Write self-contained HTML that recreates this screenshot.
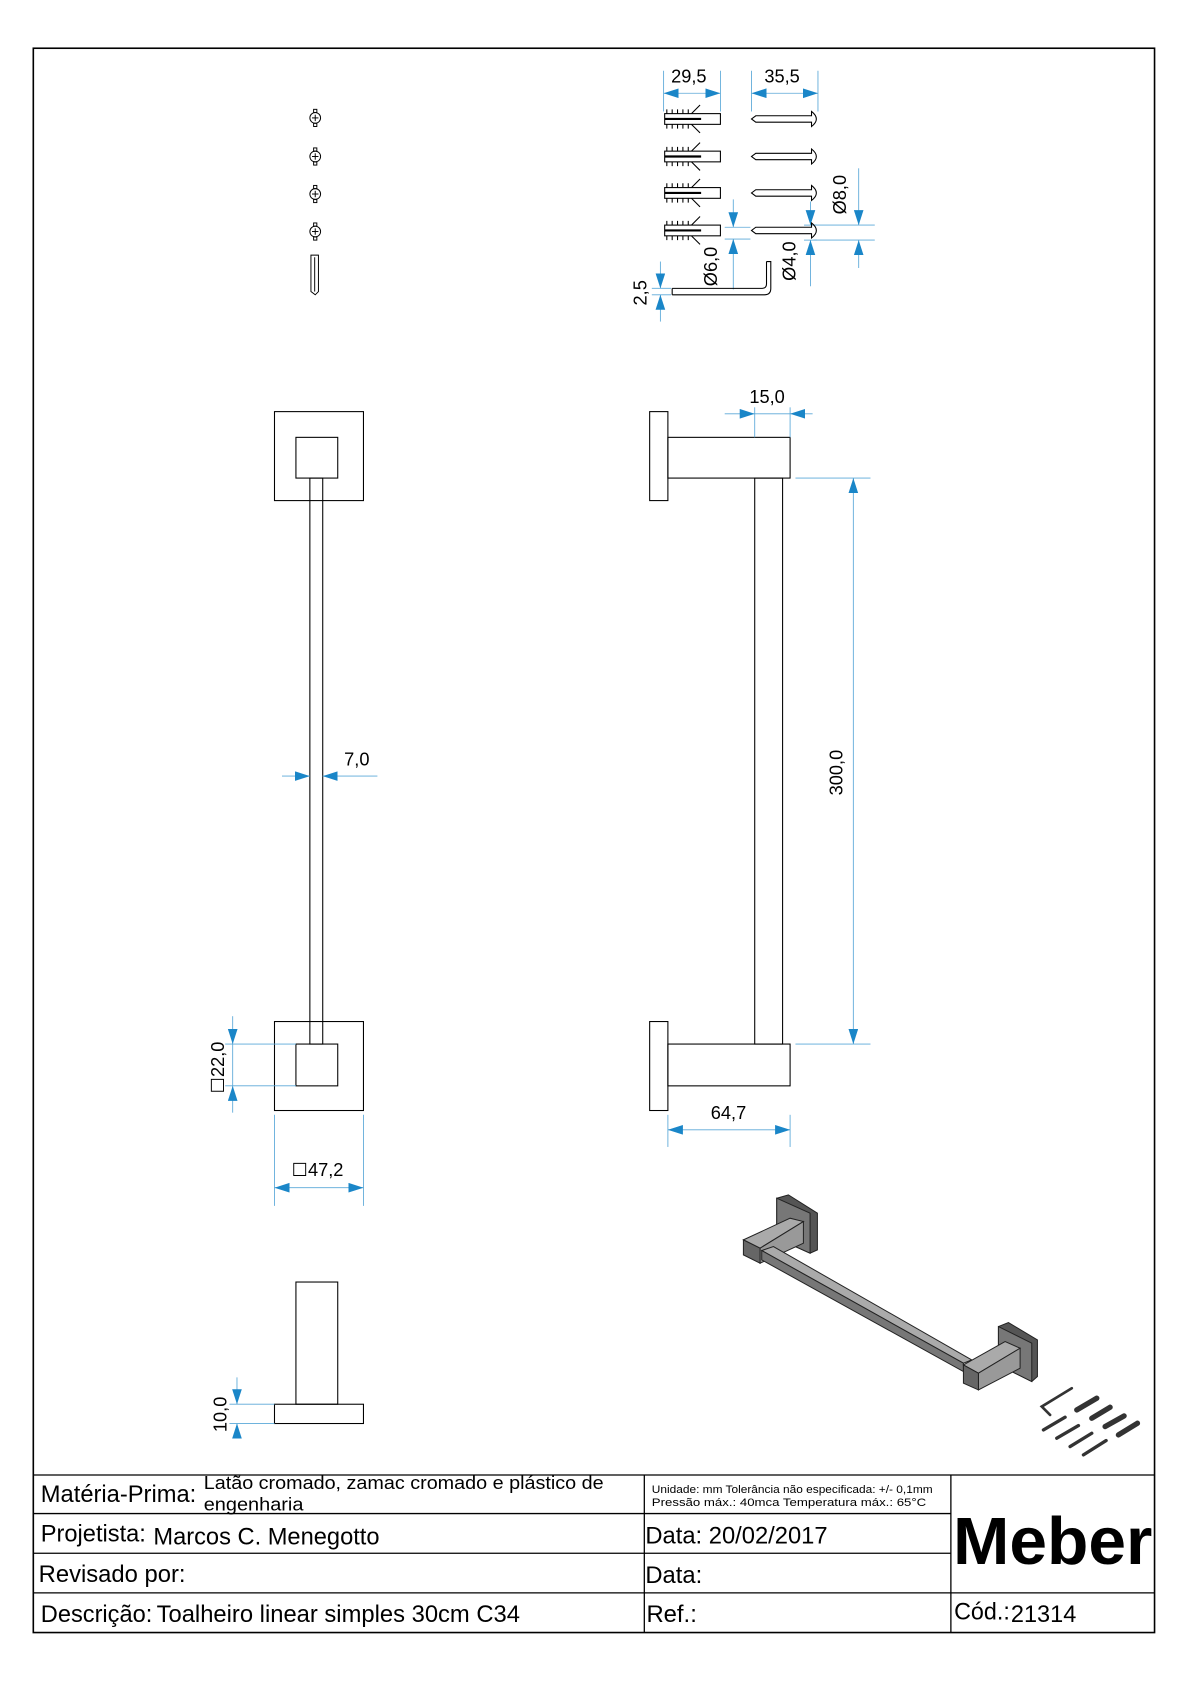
<!DOCTYPE html>
<html><head><meta charset="utf-8"><style>
html,body{margin:0;padding:0;background:#fff}
svg{display:block}
text{font-family:"Liberation Sans",sans-serif;fill:#000}
</style></head><body>
<svg width="1190" height="1684" viewBox="0 0 1110 1571" xmlns="http://www.w3.org/2000/svg">
<defs>
<marker id="a" markerUnits="userSpaceOnUse" markerWidth="14" markerHeight="10" refX="14" refY="4.5" orient="auto-start-reverse"><path d="M0,0 L14,4.5 L0,9 z" fill="#1a86c8"/></marker>
</defs>
<rect x="31" y="45" width="1046" height="1478" fill="none" stroke="#000" stroke-width="1.5"/>

<g stroke="#000" stroke-width="1.2" fill="none">
<line x1="31" y1="1376" x2="1077" y2="1376"/>
<line x1="31" y1="1412" x2="887" y2="1412"/>
<line x1="31" y1="1449" x2="887" y2="1449"/>
<line x1="31" y1="1486" x2="1077" y2="1486"/>
<line x1="601" y1="1376" x2="601" y2="1523"/>
<line x1="887" y1="1376" x2="887" y2="1523"/>
</g>
<text x="38" y="1401" font-size="22" textLength="145" lengthAdjust="spacingAndGlyphs">Matéria-Prima:</text>
<text x="190" y="1389" font-size="17" textLength="373" lengthAdjust="spacingAndGlyphs">Latão cromado, zamac cromado e plástico de</text>
<text x="190" y="1409" font-size="17" textLength="93" lengthAdjust="spacingAndGlyphs">engenharia</text>
<text x="608" y="1393" font-size="10" textLength="262" lengthAdjust="spacingAndGlyphs">Unidade: mm Tolerância não especificada: +/- 0,1mm</text>
<text x="608" y="1405" font-size="10" textLength="256" lengthAdjust="spacingAndGlyphs">Pressão máx.: 40mca       Temperatura máx.: 65°C</text>
<text x="38" y="1438" font-size="22" textLength="98" lengthAdjust="spacingAndGlyphs">Projetista:</text>
<text x="143" y="1441" font-size="22" textLength="211" lengthAdjust="spacingAndGlyphs">Marcos C. Menegotto</text>
<text x="602" y="1440" font-size="22" textLength="170" lengthAdjust="spacingAndGlyphs">Data: 20/02/2017</text>
<text x="36" y="1476" font-size="22" textLength="137" lengthAdjust="spacingAndGlyphs">Revisado por:</text>
<text x="602" y="1477" font-size="22" textLength="53" lengthAdjust="spacingAndGlyphs">Data:</text>
<text x="38" y="1513" font-size="22" textLength="104" lengthAdjust="spacingAndGlyphs">Descrição:</text>
<text x="146" y="1513" font-size="22" textLength="339" lengthAdjust="spacingAndGlyphs">Toalheiro linear simples 30cm C34</text>
<text x="603" y="1513" font-size="22" textLength="47" lengthAdjust="spacingAndGlyphs">Ref.:</text>
<text x="890" y="1511" font-size="22" textLength="52" lengthAdjust="spacingAndGlyphs">Cód.:</text>
<text x="943" y="1513" font-size="22" textLength="61" lengthAdjust="spacingAndGlyphs">21314</text>
<text x="889" y="1459" font-size="62" font-weight="bold" textLength="186" lengthAdjust="spacingAndGlyphs">Meber</text>

<g stroke="#000" stroke-width="1" fill="none">
<rect x="256" y="384" width="83" height="83"/>
<rect x="276" y="408" width="39" height="38"/>
<rect x="289" y="446" width="12" height="528"/>
<rect x="256" y="953" width="83" height="83"/>
<rect x="276" y="974" width="39" height="39"/>
<rect x="276" y="1196" width="39" height="114"/>
<rect x="256" y="1310" width="83" height="18"/>
</g>

<g stroke="#000" stroke-width="1" fill="none">
<rect x="606" y="384" width="17" height="83"/>
<rect x="623" y="408" width="114" height="38"/>
<rect x="704" y="446" width="26" height="528"/>
<rect x="606" y="953" width="17" height="83"/>
<rect x="623" y="974" width="114" height="39"/>
</g>

<g stroke="#5aa8d8" stroke-width="0.8" fill="none">
<line x1="263" y1="724" x2="289" y2="724" marker-end="url(#a)"/>
<line x1="352" y1="724" x2="301" y2="724" marker-end="url(#a)"/>
<line x1="210" y1="974" x2="276" y2="974"/>
<line x1="210" y1="1013" x2="276" y2="1013"/>
<line x1="217" y1="948" x2="217" y2="974" marker-end="url(#a)"/>
<line x1="217" y1="1038" x2="217" y2="1013" marker-end="url(#a)"/>
<line x1="217" y1="974" x2="217" y2="1013"/>
<line x1="256" y1="1040" x2="256" y2="1125"/>
<line x1="339" y1="1040" x2="339" y2="1125"/>
<line x1="256" y1="1108" x2="339" y2="1108" marker-start="url(#a)" marker-end="url(#a)"/>
<line x1="214" y1="1310" x2="256" y2="1310"/>
<line x1="214" y1="1328" x2="256" y2="1328"/>
<line x1="221" y1="1285" x2="221" y2="1310" marker-end="url(#a)"/>
<line x1="221" y1="1342" x2="221" y2="1328" marker-end="url(#a)"/>
<line x1="704" y1="380" x2="704" y2="408"/>
<line x1="737" y1="380" x2="737" y2="408"/>
<line x1="676" y1="386" x2="704" y2="386" marker-end="url(#a)"/>
<line x1="758" y1="386" x2="737" y2="386" marker-end="url(#a)"/>
<line x1="704" y1="386" x2="737" y2="386"/>
<line x1="742" y1="446" x2="812" y2="446"/>
<line x1="742" y1="974" x2="812" y2="974"/>
<line x1="796" y1="446" x2="796" y2="974" marker-start="url(#a)" marker-end="url(#a)"/>
<line x1="623" y1="1040" x2="623" y2="1070"/>
<line x1="737" y1="1040" x2="737" y2="1070"/>
<line x1="623" y1="1054" x2="737" y2="1054" marker-start="url(#a)" marker-end="url(#a)"/>
<line x1="619" y1="66" x2="619" y2="104"/>
<line x1="672" y1="66" x2="672" y2="104"/>
<line x1="619" y1="87" x2="672" y2="87" marker-start="url(#a)" marker-end="url(#a)"/>
<line x1="701" y1="66" x2="701" y2="104"/>
<line x1="763" y1="66" x2="763" y2="104"/>
<line x1="701" y1="87" x2="763" y2="87" marker-start="url(#a)" marker-end="url(#a)"/>
<line x1="676" y1="212" x2="700" y2="212"/>
<line x1="676" y1="223" x2="700" y2="223"/>
<line x1="684" y1="186" x2="684" y2="212" marker-end="url(#a)"/>
<line x1="684" y1="270" x2="684" y2="223" marker-end="url(#a)"/>
<line x1="750" y1="210" x2="762" y2="210"/>
<line x1="750" y1="224" x2="762" y2="224"/>
<line x1="756" y1="188" x2="756" y2="210" marker-end="url(#a)"/>
<line x1="756" y1="267" x2="756" y2="224" marker-end="url(#a)"/>
<line x1="759" y1="210" x2="816" y2="210"/>
<line x1="759" y1="224" x2="816" y2="224"/>
<line x1="801" y1="157" x2="801" y2="210" marker-end="url(#a)"/>
<line x1="801" y1="250" x2="801" y2="224" marker-end="url(#a)"/>
<line x1="608" y1="269" x2="626" y2="269"/>
<line x1="608" y1="275" x2="626" y2="275"/>
<line x1="616" y1="244" x2="616" y2="269" marker-end="url(#a)"/>
<line x1="616" y1="300" x2="616" y2="275" marker-end="url(#a)"/>
</g>
<g font-size="17">
<text x="321" y="714">7,0</text>
<text x="272" y="1097">☐47,2</text>
<text x="699" y="376">15,0</text>
<text x="663" y="1044">64,7</text>
<text x="626" y="77">29,5</text>
<text x="713" y="77">35,5</text>
<text transform="translate(209,1020) rotate(-90)">☐22,0</text>
<text transform="translate(211,1336) rotate(-90)">10,0</text>
<text transform="translate(786,742) rotate(-90)">300,0</text>
<text transform="translate(669,267) rotate(-90)">Ø6,0</text>
<text transform="translate(742,262) rotate(-90)">Ø4,0</text>
<text transform="translate(789,200) rotate(-90)">Ø8,0</text>
<text transform="translate(603,285) rotate(-90)">2,5</text>
</g>

<g stroke="#000" stroke-width="0.9" fill="none">
<g transform="translate(294,110)"><circle r="5"/><line x1="-3" x2="3"/><line y1="-3" y2="3"/><rect x="-1.5" y="-8" width="3" height="3"/><rect x="-1.5" y="5" width="3" height="3"/></g>
<g transform="translate(294,146)"><circle r="5"/><line x1="-3" x2="3"/><line y1="-3" y2="3"/><rect x="-1.5" y="-8" width="3" height="3"/><rect x="-1.5" y="5" width="3" height="3"/></g>
<g transform="translate(294,181)"><circle r="5"/><line x1="-3" x2="3"/><line y1="-3" y2="3"/><rect x="-1.5" y="-8" width="3" height="3"/><rect x="-1.5" y="5" width="3" height="3"/></g>
<g transform="translate(294,216)"><circle r="5"/><line x1="-3" x2="3"/><line y1="-3" y2="3"/><rect x="-1.5" y="-8" width="3" height="3"/><rect x="-1.5" y="5" width="3" height="3"/></g>
<path d="M290,238 L290,272 L294,275 L297,272 L297,238 Z"/>
<line x1="293.5" y1="240" x2="293.5" y2="272"/>
</g>

<g stroke="#000" stroke-width="1" fill="none">
<g id="anc"><rect x="620" y="106" width="52" height="10"/><path d="M622,106 v-4 M627,106 v-4 M632,106 v-4 M637,106 v-4 M642,106 v-4 M622,116 v4 M627,116 v4 M632,116 v4 M637,116 v4 M642,116 v4 M645,106 l8,-8 M645,116 l8,8"/><line x1="620" y1="111" x2="654" y2="111" stroke-width="2"/></g>
<use href="#anc" y="35"/><use href="#anc" y="69"/><use href="#anc" y="104"/>
<g id="scr"><path d="M705,108 L757,108 L757,104 Q766,111 757,118 L757,114 L705,114 L701,111 Z"/></g>
<use href="#scr" y="35"/><use href="#scr" y="69"/><use href="#scr" y="104"/>
<path d="M627,269 L711,269 Q715,269 715,265 L715,244 M627,275 L713,275 Q719,275 719,269 L719,244 L715,244 M627,269 L627,275"/>
</g>

<g transform="translate(681,1100.7) scale(0.311)" stroke="#222" stroke-width="3">
<polygon points="140,55 175,45 262,100 262,210 240,220 140,175" fill="#555"/>
<polygon points="140,55 240,100 240,220 140,175" fill="#777"/>
<polygon points="40,180 180,115 220,125 90,205" fill="#aaa"/>
<polygon points="90,205 220,125 220,190 90,250" fill="#999"/>
<polygon points="40,180 90,205 90,250 40,225" fill="#666"/>
<polygon points="95,212 130,200 725,540 700,550" fill="#aaa"/>
<polygon points="95,212 700,550 700,575 95,240" fill="#777"/>
<polygon points="805,440 835,428 922,480 922,590 905,605 805,555" fill="#555"/>
<polygon points="805,440 905,490 905,605 805,555" fill="#777"/>
<polygon points="700,555 825,485 870,505 745,580" fill="#aaa"/>
<polygon points="745,580 870,505 870,565 745,630" fill="#999"/>
<polygon points="700,555 745,580 745,630 700,610" fill="#666"/>
<g stroke="#333" stroke-width="10" stroke-linecap="round">
<path d="M1025,625 L935,680 L960,705" fill="none" stroke-width="8"/>
<line x1="940" y1="750" x2="1005" y2="712"/>
<line x1="980" y1="775" x2="1045" y2="737"/>
<line x1="1020" y1="800" x2="1085" y2="760"/>
<line x1="1060" y1="825" x2="1128" y2="782"/>
<line x1="1040" y1="690" x2="1100" y2="655" stroke-width="16"/>
<line x1="1085" y1="715" x2="1140" y2="682" stroke-width="16"/>
<line x1="1125" y1="740" x2="1182" y2="708" stroke-width="16"/>
<line x1="1165" y1="765" x2="1222" y2="730" stroke-width="16"/>
</g>
</g>
</svg>
</body></html>
